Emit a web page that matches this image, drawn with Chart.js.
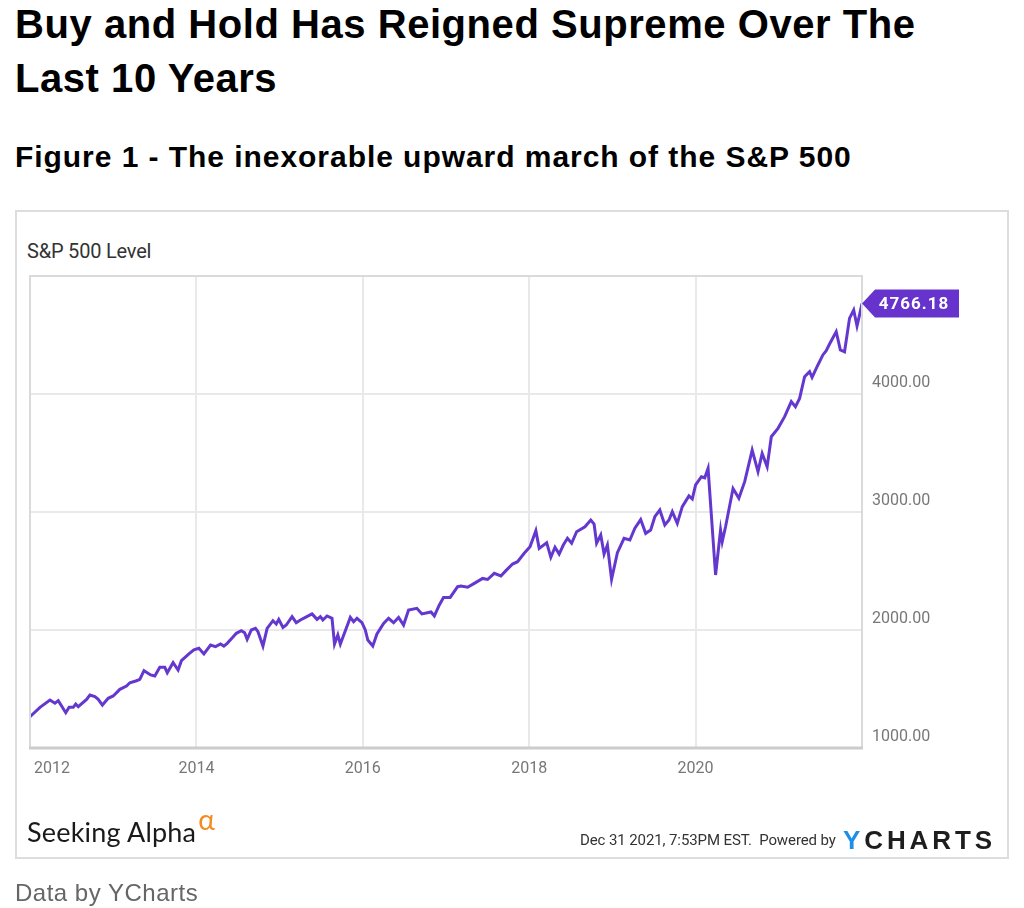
<!DOCTYPE html>
<html>
<head>
<meta charset="utf-8">
<script src="https://cdn.jsdelivr.net/npm/chart.js@4/dist/chart.umd.min.js"></script>
<style>
  body { margin: 0; width: 1024px; height: 908px; overflow: hidden; background: #fff; position: relative; }
  .abs { position: absolute; white-space: nowrap; }
  #title { left: 15px; top: -3px; font: bold 40px "Liberation Sans", Arial, sans-serif; line-height: 54px; color: #000; letter-spacing: 0.55px; }
  #subtitle { left: 15px; top: 137px; font: bold 30px "Liberation Sans", Arial, sans-serif; line-height: 40px; color: #000; letter-spacing: 0.95px; }
  #box { left: 15px; top: 210px; width: 994px; height: 649px; box-sizing: border-box; border: 2px solid #dddddd; }
  #ylabel { left: 27px; top: 238px; font: 20px Roboto, sans-serif; line-height: 26px; color: #333; letter-spacing: -0.2px; }
  #seeking { left: 27px; top: 814px; font: 27px Lato, sans-serif; line-height: 34px; color: #1a1a1a; letter-spacing: 0.2px; }
  #seeking span { color: #f28b22; font-size: 28px; position: relative; top: -12px; margin-left: 2px; }
  #stamp { left: 580px; top: 830px; font: 15px Roboto, sans-serif; line-height: 20px; color: #333; letter-spacing: -0.1px; }
  #ycharts { left: 843px; top: 825px; font: bold 26px "Liberation Sans", Arial, sans-serif; line-height: 30px; color: #1e1e1e; letter-spacing: 3.9px; }
  #ycharts span { color: #1e8fe8; }
  #source { left: 15px; top: 878px; font: 24px "Liberation Sans", Arial, sans-serif; line-height: 30px; color: #666; letter-spacing: 0.5px; }
  #wrap { left: 16px; top: 211px; width: 992px; height: 647px; }
</style>
</head>
<body>
<div id="title" class="abs">Buy and Hold Has Reigned Supreme Over The<br>Last 10 Years</div>
<div id="subtitle" class="abs">Figure 1 - The inexorable upward march of the S&amp;P 500</div>
<div id="box" class="abs"></div>
<div id="ylabel" class="abs">S&amp;P 500 Level</div>
<div id="wrap" class="abs"><canvas id="myChart" width="992" height="647"></canvas></div>
<div id="seeking" class="abs">Seeking Alpha<span>α</span></div>
<div id="stamp" class="abs">Dec 31 2021, 7:53PM EST.&nbsp; Powered by</div>
<div id="ycharts" class="abs"><span>Y</span>CHARTS</div>
<div id="source" class="abs">Data by YCharts</div>
<script>
// S&P 500 level (x in decimal years)
const years = [
  2012.00, 2012.12, 2012.24, 2012.30, 2012.34, 2012.43, 2012.47, 2012.52, 2012.55, 2012.58,
  2012.68, 2012.72, 2012.78, 2012.82, 2012.87, 2012.94, 2013.00, 2013.08, 2013.16, 2013.20,
  2013.28, 2013.32, 2013.37, 2013.45, 2013.50, 2013.56, 2013.62, 2013.65, 2013.72, 2013.78,
  2013.82, 2013.91, 2013.97, 2014.03, 2014.09, 2014.17, 2014.23, 2014.29, 2014.33, 2014.37,
  2014.44, 2014.48, 2014.54, 2014.58, 2014.61, 2014.66, 2014.71, 2014.74, 2014.80, 2014.85,
  2014.92, 2014.96, 2014.99, 2015.04, 2015.08, 2015.15, 2015.20, 2015.25, 2015.31, 2015.39,
  2015.45, 2015.49, 2015.52, 2015.57, 2015.63, 2015.66, 2015.70, 2015.73, 2015.79, 2015.85,
  2015.89, 2015.93, 2015.99, 2016.03, 2016.06, 2016.12, 2016.17, 2016.25, 2016.31, 2016.37,
  2016.43, 2016.49, 2016.55, 2016.65, 2016.71, 2016.82, 2016.86, 2016.92, 2016.97, 2017.05,
  2017.14, 2017.18, 2017.26, 2017.34, 2017.44, 2017.50, 2017.58, 2017.66, 2017.72, 2017.80,
  2017.86, 2017.94, 2018.01, 2018.08, 2018.12, 2018.21, 2018.26, 2018.31, 2018.36, 2018.41,
  2018.46, 2018.51, 2018.57, 2018.67, 2018.74, 2018.78, 2018.81, 2018.86, 2018.90, 2018.94,
  2018.99, 2019.06, 2019.14, 2019.21, 2019.27, 2019.34, 2019.40, 2019.46, 2019.51, 2019.57,
  2019.63, 2019.68, 2019.72, 2019.78, 2019.84, 2019.92, 2019.96, 2020.00, 2020.07, 2020.11,
  2020.15, 2020.24, 2020.30, 2020.32, 2020.36, 2020.45, 2020.52, 2020.59, 2020.68, 2020.75,
  2020.80, 2020.86, 2020.91, 2020.99, 2021.07, 2021.15, 2021.20, 2021.25, 2021.31, 2021.37,
  2021.40, 2021.47, 2021.53, 2021.57, 2021.61, 2021.69, 2021.74, 2021.79, 2021.85, 2021.90,
  2021.94, 2021.97, 2022.00
];
const values = [
  1265, 1345, 1407, 1379, 1401, 1299, 1345, 1345, 1373, 1350,
  1412, 1449, 1435, 1412, 1364, 1421, 1441, 1497, 1525, 1553,
  1570, 1582, 1655, 1619, 1610, 1684, 1684, 1638, 1723, 1661,
  1740, 1797, 1831, 1845, 1797, 1873, 1859, 1881, 1864, 1887,
  1940, 1972, 1994, 1977, 1921, 2000, 2014, 1986, 1864, 2014,
  2079, 2051, 2090, 2021, 2042, 2113, 2062, 2085, 2107, 2136,
  2090, 2113, 2085, 2119, 2099, 1881, 1958, 1881, 1994, 2107,
  2070, 2099, 2062, 2000, 1915, 1864, 1966, 2056, 2099, 2062,
  2107, 2042, 2169, 2184, 2136, 2153, 2119, 2212, 2276, 2276,
  2367, 2373, 2362, 2395, 2437, 2428, 2480, 2458, 2503, 2559,
  2579, 2650, 2706, 2842, 2692, 2740, 2616, 2701, 2644, 2720,
  2777, 2735, 2833, 2875, 2932, 2898, 2735, 2805, 2644, 2720,
  2429, 2655, 2777, 2763, 2862, 2936, 2819, 2847, 2960, 3017,
  2890, 2932, 3003, 2904, 3045, 3136, 3110, 3229, 3299, 3290,
  3370, 2466, 2847, 2749, 2875, 3199, 3116, 3257, 3525, 3342,
  3497, 3384, 3638, 3709, 3808, 3935, 3892, 3963, 4146, 4189,
  4141, 4246, 4331, 4367, 4424, 4528, 4373, 4358, 4641, 4712,
  4576, 4669, 4766.18
];
const xTicks = [2012, 2014, 2016, 2018, 2020];
const yTicks = [1000, 2000, 3000, 4000];

const lineColor = '#6438cf';
const labelFont = '16px Roboto, sans-serif';

// axis labels, plot frame and last-value badge
const decorations = {
  id: 'decorations',
  afterDraw(chart) {
    const { ctx, chartArea: a, scales } = chart;
    ctx.save();
    ctx.strokeStyle = '#dadada';
    ctx.lineWidth = 2;
    ctx.strokeRect(a.left, a.top, a.right - a.left, a.bottom - a.top);
    ctx.strokeStyle = '#cccccc';
    ctx.lineWidth = 3;
    ctx.beginPath();
    ctx.moveTo(a.left - 1, a.bottom);
    ctx.lineTo(a.right + 1, a.bottom);
    ctx.stroke();

    ctx.font = labelFont;
    ctx.fillStyle = '#777';
    ctx.textBaseline = 'middle';
    ctx.textAlign = 'left';
    yTicks.forEach(v => {
      const y = scales.y.getPixelForValue(v);
      ctx.fillText(v.toFixed(2), a.right + 10, y - 11);
    });
    ctx.textAlign = 'center';
    xTicks.forEach(v => {
      const w = ctx.measureText(String(v)).width;
      const x = Math.max(scales.x.getPixelForValue(v), a.left + 4 + w / 2);
      ctx.fillText(String(v), x, a.bottom + 21);
    });

    // badge with last value
    const last = values[values.length - 1];
    const by = scales.y.getPixelForValue(last);
    const bx = a.right;
    ctx.fillStyle = '#6633cc';
    ctx.beginPath();
    ctx.moveTo(bx, by);
    ctx.lineTo(bx + 13, by - 14);
    ctx.lineTo(bx + 97, by - 14);
    ctx.lineTo(bx + 97, by + 14);
    ctx.lineTo(bx + 13, by + 14);
    ctx.closePath();
    ctx.fill();
    ctx.fillStyle = '#fff';
    ctx.font = 'bold 17px Roboto, sans-serif';
    ctx.letterSpacing = '1px';
    ctx.textAlign = 'center';
    ctx.fillText(last.toFixed(2), bx + 52, by + 1);
    ctx.restore();
  }
};

new Chart(document.getElementById('myChart'), {
  type: 'line',
  data: {
    datasets: [{
      label: 'S&P 500 Level',
      data: years.map((y, i) => ({ x: y, y: values[i] })),
      borderColor: lineColor,
      borderWidth: 3,
      pointRadius: 0,
      tension: 0,
      fill: false
    }]
  },
  options: {
    responsive: false,
    animation: false,
    layout: { padding: { left: 14, top: 65, right: 146, bottom: 110 } },
    plugins: { legend: { display: false }, tooltip: { enabled: false } },
    scales: {
      x: {
        type: 'linear', min: 2012, max: 2022,
        ticks: { stepSize: 2, display: false },
        grid: { color: '#e9e9e9', lineWidth: 2, drawTicks: false },
        border: { display: false },
        afterFit: s => { s.height = 0; }
      },
      y: {
        position: 'right', min: 1000, max: 5000,
        ticks: { stepSize: 1000, display: false },
        grid: { color: '#e9e9e9', lineWidth: 2, drawTicks: false },
        border: { display: false },
        afterFit: s => { s.width = 0; }
      }
    }
  },
  plugins: [decorations]
});
</script>
</body>
</html>
